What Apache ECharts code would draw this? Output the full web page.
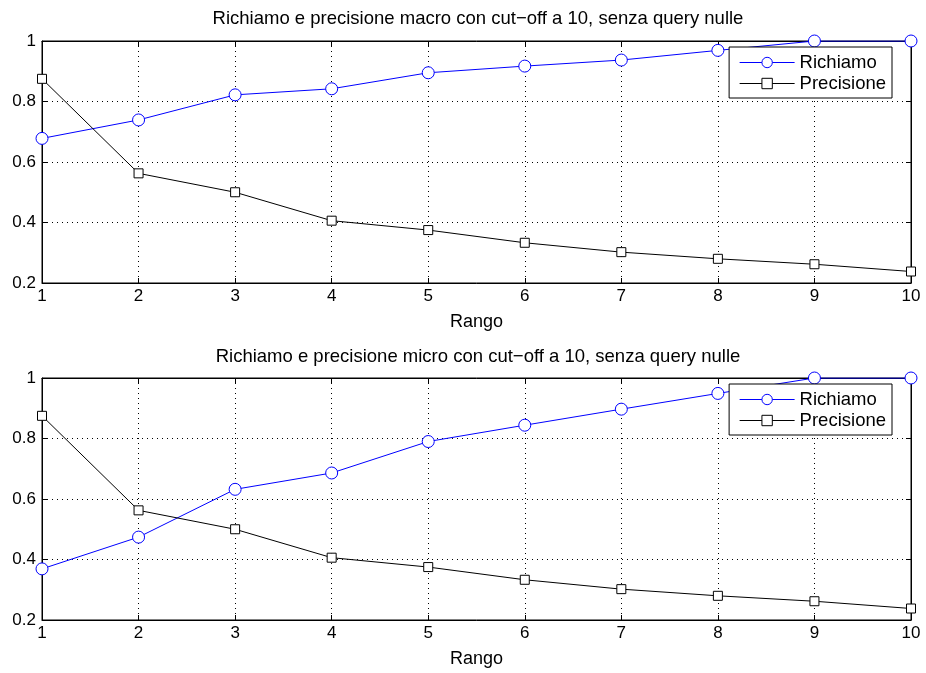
<!DOCTYPE html>
<html>
<head>
<meta charset="utf-8">
<script src="https://cdn.jsdelivr.net/npm/echarts@6/dist/echarts.min.js"></script>
<style>
  html, body { margin: 0; padding: 0; background: #fff; }
  #main { width: 926px; height: 673px; }
</style>
</head>
<body>
<div id="main"></div>
<script>
// rango (cut-off)
var rango = [1, 2, 3, 4, 5, 6, 7, 8, 9, 10];
// macro
var richiamoMacro = [0.678, 0.739, 0.822, 0.842, 0.895, 0.917, 0.937, 0.969, 1.0, 1.0];
var precisioneMacro = [0.875, 0.5625, 0.5, 0.406, 0.375, 0.333, 0.302, 0.280, 0.262, 0.238];
// micro
var richiamoMicro = [0.369, 0.474, 0.632, 0.686, 0.790, 0.844, 0.897, 0.949, 1.0, 1.0];
var precisioneMicro = [0.875, 0.5625, 0.5, 0.406, 0.375, 0.333, 0.302, 0.280, 0.262, 0.238];
var titoli = [
  'Richiamo e precisione macro con cut\u2212off a 10, senza query nulle',
  'Richiamo e precisione micro con cut\u2212off a 10, senza query nulle'
];

var font = 'Liberation Sans, Arial, Helvetica, sans-serif';
var myChart = echarts.init(document.getElementById('main'));

function pairs(ys) {
  var out = [];
  for (var i = 0; i < rango.length; i++) {
    out.push([rango[i], ys[i]]);
  }
  return out;
}

var grids = [
  { left: 42, top: 41, width: 869, height: 242, show: true, borderColor: '#000', borderWidth: 1, backgroundColor: '#fff' },
  { left: 42, top: 378, width: 869, height: 242, show: true, borderColor: '#000', borderWidth: 1, backgroundColor: '#fff' }
];

var xAxes = [], yAxes = [];
for (var g = 0; g < 2; g++) {
  // asse principale in basso
  xAxes.push({
    type: 'value', gridIndex: g, min: 1, max: 10, interval: 1,
    name: 'Rango', nameLocation: 'middle', nameGap: 30,
    nameTextStyle: { fontFamily: font, fontSize: 18, color: '#000' },
    axisLine: { lineStyle: { color: '#000' } },
    axisTick: { inside: true, length: 5, lineStyle: { color: '#000' } },
    axisLabel: { fontFamily: font, fontSize: 17, color: '#000', margin: 5 },
    splitLine: { show: true, lineStyle: { color: '#000', type: [1, 4], width: 1 } }
  });
  // solo tacche in alto
  xAxes.push({
    type: 'value', gridIndex: g, min: 1, max: 10, interval: 1, position: 'top',
    axisLine: { lineStyle: { color: '#000' } },
    axisTick: { inside: true, length: 5, lineStyle: { color: '#000' } },
    axisLabel: { show: false }, splitLine: { show: false }
  });
  yAxes.push({
    type: 'value', gridIndex: g, min: 0.2, max: 1, interval: 0.2,
    axisLine: { show: true, lineStyle: { color: '#000' } },
    axisTick: { show: true, inside: true, length: 5, lineStyle: { color: '#000' } },
    axisLabel: {
      fontFamily: font, fontSize: 17, color: '#000', margin: 6,
      formatter: function (v) { return String(Math.round(v * 10) / 10); }
    },
    splitLine: { show: true, lineStyle: { color: '#000', type: [1, 4], width: 1 } }
  });
  yAxes.push({
    type: 'value', gridIndex: g, min: 0.2, max: 1, interval: 0.2, position: 'right',
    axisLine: { show: true, lineStyle: { color: '#000' } },
    axisTick: { show: true, inside: true, length: 5, lineStyle: { color: '#000' } },
    axisLabel: { show: false }, splitLine: { show: false }
  });
}

function serieRichiamo(data, g) {
  return {
    name: 'Richiamo', type: 'line', xAxisIndex: g * 2, yAxisIndex: g * 2,
    data: pairs(data), symbol: 'circle', symbolSize: 12, showAllSymbol: true,
    lineStyle: { color: '#0000ff', width: 1 },
    itemStyle: { color: '#fff', borderColor: '#0000ff', borderWidth: 1 },
    emphasis: { disabled: true }, animation: false, z: 3
  };
}
function seriePrecisione(data, g) {
  return {
    name: 'Precisione', type: 'line', xAxisIndex: g * 2, yAxisIndex: g * 2,
    data: pairs(data), symbol: 'rect', symbolSize: 9, showAllSymbol: true,
    lineStyle: { color: '#000', width: 1 },
    itemStyle: { color: '#fff', borderColor: '#000', borderWidth: 1 },
    emphasis: { disabled: true }, animation: false, z: 3
  };
}

function legenda(top) {
  return {
    right: 34, top: top, orient: 'vertical', align: 'left',
    data: ['Richiamo', 'Precisione'],
    itemWidth: 55, itemHeight: 13, itemGap: 2,
    padding: [6, 6, 5, 10],
    lineStyle: { width: 1 },
    itemStyle: { borderWidth: 1 },
    backgroundColor: '#fff', borderColor: '#000', borderWidth: 1,
    textStyle: { fontFamily: font, fontSize: 18.5, color: '#000' },
    selectedMode: false, z: 10
  };
}

var option = {
  animation: false,
  backgroundColor: '#fff',
  title: [
    { text: titoli[0], left: 478, top: 9, padding: 0, textAlign: 'center',
      textStyle: { fontFamily: font, fontSize: 18.5, fontWeight: 'normal', color: '#000' } },
    { text: titoli[1], left: 478, top: 347, padding: 0, textAlign: 'center',
      textStyle: { fontFamily: font, fontSize: 18.5, fontWeight: 'normal', color: '#000' } }
  ],
  grid: grids,
  xAxis: xAxes,
  yAxis: yAxes,
  legend: [legenda(47), legenda(384)],
  series: [
    serieRichiamo(richiamoMacro, 0),
    seriePrecisione(precisioneMacro, 0),
    serieRichiamo(richiamoMicro, 1),
    seriePrecisione(precisioneMicro, 1)
  ]
};

myChart.setOption(option);
</script>
</body>
</html>
